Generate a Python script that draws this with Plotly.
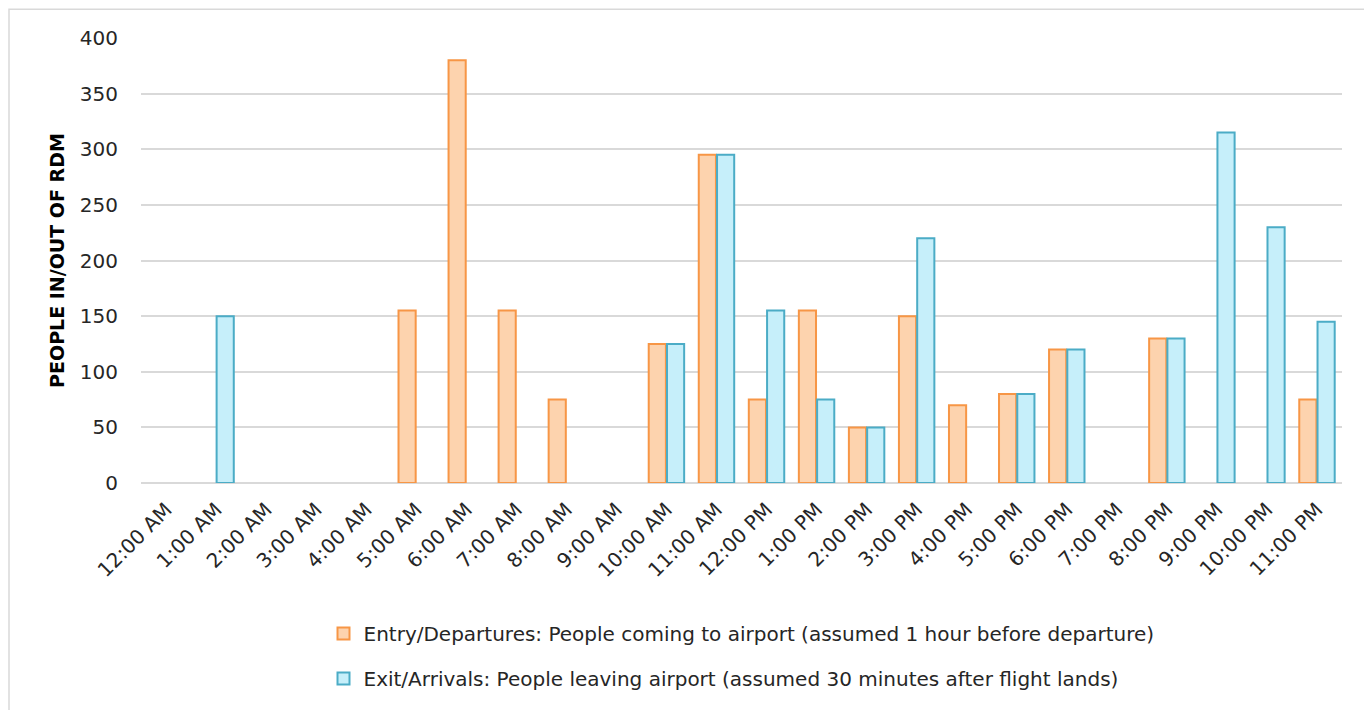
import plotly.graph_objects as go

hours = ["12:00 AM", "1:00 AM", "2:00 AM", "3:00 AM", "4:00 AM", "5:00 AM", "6:00 AM",
         "7:00 AM", "8:00 AM", "9:00 AM", "10:00 AM", "11:00 AM", "12:00 PM", "1:00 PM",
         "2:00 PM", "3:00 PM", "4:00 PM", "5:00 PM", "6:00 PM", "7:00 PM", "8:00 PM",
         "9:00 PM", "10:00 PM", "11:00 PM"]
departures = [None, None, None, None, None, 155, 380, 155, 75, None, 125, 295, 75, 155,
              50, 150, 70, 80, 120, None, 130, None, None, 75]
arrivals = [None, 150, None, None, None, None, None, None, None, None, 125, 295, 155, 75,
            50, 220, None, 80, 120, None, 130, 315, 230, 145]
dep_name = "Entry/Departures: People coming to airport (assumed 1 hour before departure)"
arr_name = "Exit/Arrivals: People leaving airport (assumed 30 minutes after flight lands)"
y_ticks = [0, 50, 100, 150, 200, 250, 300, 350, 400]

FONT = "DejaVu Sans"
OFF = 8  # page body margin

fig = go.Figure()
fig.add_trace(go.Bar(x=hours, y=departures, name=dep_name, legendgroup="dep",
                     marker=dict(color="#FDD3AE", line=dict(color="#F79646", width=2))))
fig.add_trace(go.Bar(x=hours, y=arrivals, name=arr_name, legendgroup="arr",
                     marker=dict(color="#C6EFFA", line=dict(color="#4BACC6", width=2))))

W, H = 1372 - OFF, 710 - OFF
# target page coordinates of plot area: left 141, right 1342, top 38, bottom 486
ml, mt = 141 - OFF, 38 - OFF
mr = W - (1342 - OFF)
mb = H - (486 - OFF)
pw = W - ml - mr
ph = H - mt - mb

def px(x):
    return (x - OFF - ml) / pw

def py(y):
    return (H - mb - (y - OFF)) / ph

fig.update_layout(
    width=W, height=H,
    margin=dict(l=ml, r=mr, t=mt, b=mb),
    paper_bgcolor="white", plot_bgcolor="white",
    barmode="group", bargap=0.27, bargroupgap=0.06,
    font=dict(family=FONT, size=19, color="#262626"),
    showlegend=True,
    legend=dict(orientation="v", x=0.5, xanchor="center", y=py(618), yanchor="top",
                font=dict(family=FONT, size=20, color="#262626"),
                itemwidth=30, tracegroupgap=16),
    xaxis=dict(type="category", tickangle=-45, showgrid=False, showline=False,
               ticks="", tickfont=dict(size=20), ticklabelstandoff=10, automargin=False),
    yaxis=dict(range=[0, 400], tickvals=y_ticks, showgrid=True, gridcolor="#D9D9D9",
               gridwidth=1.5, zeroline=True, zerolinecolor="#D9D9D9", zerolinewidth=1.5,
               ticks="", ticklabelstandoff=22, tickfont=dict(size=20),
               title=dict(text="<b>PEOPLE IN/OUT OF RDM</b>", standoff=10,
                          font=dict(size=19, color="#000000")),
               automargin=False),
    shapes=[dict(type="rect", xref="paper", yref="paper",
                 x0=px(9), x1=px(1371), y0=py(730), y1=py(9),
                 line=dict(color="#D9D9D9", width=1.5), fillcolor="rgba(0,0,0,0)",
                 layer="below")],
)

fig.write_html("out.html")
